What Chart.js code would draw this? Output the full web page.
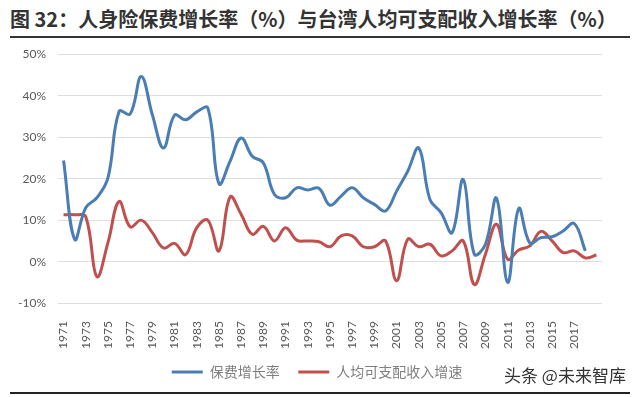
<!DOCTYPE html>
<html>
<head>
<meta charset="utf-8">
<script src="https://cdn.jsdelivr.net/npm/chart.js@4"></script>
<style>
  html, body { margin: 0; padding: 0; background: #fff; }
  #page { position: relative; width: 640px; height: 397px; overflow: hidden; }
  #title {
    position: absolute; left: 10px; top: 5px; width: 620px;
    font-family: "Noto Sans CJK SC", sans-serif; font-weight: bold;
    font-size: 20px; color: #333; white-space: nowrap; line-height: 28px;
  }
  #rule1 { position: absolute; left: 10px; top: 36px; width: 620px; height: 2px; background: #333; }
  #rule2 { position: absolute; left: 10px; top: 392px; width: 620px; height: 2px; background: #222; }
  #box { position: absolute; left: 0; top: 35px; width: 640px; height: 354px; }
  #mark {
    position: absolute; left: 504px; top: 362px;
    font-family: "Noto Sans CJK SC", sans-serif; font-size: 17px; color: #333;
  }
</style>
</head>
<body>
<div id="page">
  <div id="title">图 32：人身险保费增长率（%）与台湾人均可支配收入增长率（%）</div>
  <div id="rule1"></div>
  <div id="box"><canvas id="myChart"></canvas></div>
  <div id="mark">头条 @未来智库</div>
  <div id="rule2"></div>
</div>
<script>
'use strict';

// 年份（1971-2019）
const years = [
  '1971', '1972', '1973', '1974', '1975', '1976', '1977', '1978', '1979', '1980',
  '1981', '1982', '1983', '1984', '1985', '1986', '1987', '1988', '1989', '1990',
  '1991', '1992', '1993', '1994', '1995', '1996', '1997', '1998', '1999', '2000',
  '2001', '2002', '2003', '2004', '2005', '2006', '2007', '2008', '2009', '2010',
  '2011', '2012', '2013', '2014', '2015', '2016', '2017', '2018', '2019'
];

// 保费增长率 (%)，到2018
const premiumGrowth = [
  24.4, 5.4, 13.0, 15.4, 20.2, 36.2, 35.6, 44.6, 35.4, 27.4,
  35.3, 34.2, 36.1, 37.0, 18.8, 24.2, 29.8, 25.4, 23.8, 16.2,
  15.4, 17.8, 17.3, 17.7, 13.6, 15.8, 17.8, 15.4, 13.8, 12.2,
  17.0, 21.8, 27.4, 15.0, 11.8, 7.0, 19.8, 1.8, 4.2, 15.3,
  -5.0, 12.8, 4.5, 5.8, 6.0, 7.4, 9.2, 2.6
];

// 人均可支配收入增速 (%)，到2019
const incomeGrowth = [
  11.3, 11.3, 10.8, -3.6, 4.6, 14.5, 8.4, 10.0, 7.0, 3.3,
  4.4, 1.7, 8.2, 10.0, 2.6, 15.6, 11.4, 6.6, 8.5, 5.0,
  8.2, 5.2, 5.0, 4.8, 3.6, 6.2, 6.2, 3.6, 3.6, 5.0,
  -4.6, 5.4, 3.6, 4.2, 1.4, 2.6, 5.0, -5.5, 1.8, 9.0,
  0.6, 2.8, 3.8, 7.3, 5.0, 2.2, 2.6, 0.9, 1.6
];

// 坐标轴刻度
const yTicks = [-10, 0, 10, 20, 30, 40, 50];

const tickFont = { family: 'Lato, "Noto Sans", sans-serif', size: 12 };

// 图例整体往右挪一点，和原图对齐
const legendShift = {
  id: 'legendShift',
  afterLayout(chart) {
    chart.legend.left += 13;
    chart.legend.right += 13;
  }
};

const ctx = document.getElementById('myChart').getContext('2d');
const myChart = new Chart(ctx, {
  type: 'line',
  data: {
    labels: years,
    datasets: [{
      label: '保费增长率',
      data: premiumGrowth,
      borderColor: '#4a7db3',
      backgroundColor: '#4a7db3',
      borderWidth: 3,
      pointRadius: 0,
      tension: 0.4
    }, {
      label: '人均可支配收入增速',
      data: incomeGrowth,
      borderColor: '#c0504d',
      backgroundColor: '#c0504d',
      borderWidth: 3,
      pointRadius: 0,
      tension: 0.4
    }]
  },
  options: {
    responsive: true,
    maintainAspectRatio: false,
    animation: false,
    layout: { padding: { top: 2, right: 38, left: 6, bottom: 0 } },
    plugins: {
      tooltip: { enabled: false },
      legend: {
        position: 'bottom',
        labels: {
          usePointStyle: true,
          pointStyle: 'line',
          pointStyleWidth: 31,
          color: '#7f7f7f',
          font: { family: '"Noto Sans CJK SC", sans-serif', size: 14 },
          padding: 6,
          // 两个图例之间留出间距
          generateLabels: chart => {
            const items = Chart.defaults.plugins.legend.labels.generateLabels(chart);
            items[0].text = items[0].text + '    ';
            return items;
          }
        }
      }
    },
    scales: {
      x: {
        offset: true,
        grid: { display: false },
        border: { display: false },
        ticks: {
          autoSkip: false,
          minRotation: 90,
          maxRotation: 90,
          padding: 10,
          color: '#595959',
          font: tickFont,
          callback: (val, i) => (i % 2 === 0 && i < years.length - 1) ? years[i] : ''
        }
      },
      y: {
        min: yTicks[0],
        max: yTicks[yTicks.length - 1],
        afterBuildTicks: axis => { axis.ticks = yTicks.map(v => ({ value: v })); },
        grid: { color: '#dedede', drawTicks: false, lineWidth: 1 },
        border: { display: false },
        ticks: {
          padding: 12,
          color: '#595959',
          font: tickFont,
          callback: v => v + '%'
        }
      }
    }
  },
  plugins: [legendShift]
});
</script>
</body>
</html>
